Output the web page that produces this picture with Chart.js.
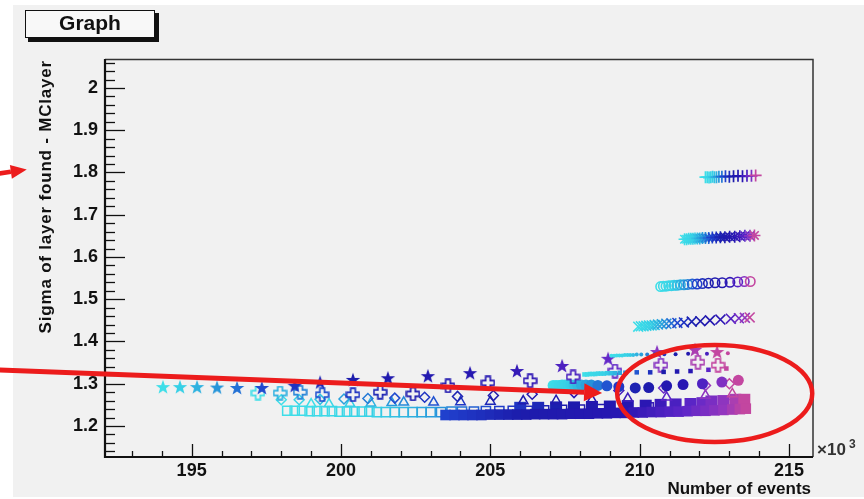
<!DOCTYPE html>
<html>
<head>
<meta charset="utf-8">
<script src="https://cdn.jsdelivr.net/npm/chart.js@4.4.1/dist/chart.umd.min.js"></script>
<style>
  html, body { margin: 0; padding: 0; background: #fff; }
  #wrap { width: 864px; height: 499px; }
</style>
</head>
<body>
<div id="wrap"><canvas id="graph" width="864" height="499"></canvas></div>
<script>
// x in thousands of events, y = sigma(layer found - MC layer)

// thin "+" row
const plusX = [212.20, 212.26, 212.32, 212.38, 212.44, 212.50, 212.57, 212.65, 212.75, 212.87, 213.00, 213.14, 213.29, 213.44, 213.59, 213.74, 213.88];
const plusY = [1.789, 1.789, 1.788, 1.789, 1.790, 1.789, 1.789, 1.790, 1.790, 1.791, 1.790, 1.791, 1.792, 1.791, 1.792, 1.792, 1.793];

// asterisk row
const asterX = [211.50, 211.57, 211.64, 211.71, 211.78, 211.85, 211.93, 212.01, 212.10, 212.20, 212.31, 212.43, 212.56, 212.70, 212.85, 213.01, 213.18, 213.35, 213.52, 213.69, 213.84];
const asterY = [1.642, 1.642, 1.643, 1.643, 1.643, 1.644, 1.644, 1.644, 1.645, 1.645, 1.645, 1.646, 1.646, 1.647, 1.647, 1.648, 1.648, 1.649, 1.650, 1.650, 1.651];

// open circle row
const ringX = [210.70, 210.79, 210.88, 210.97, 211.06, 211.15, 211.25, 211.36, 211.48, 211.61, 211.76, 211.92, 212.10, 212.30, 212.52, 212.76, 213.02, 213.28, 213.50, 213.70];
const ringY = [1.530, 1.531, 1.531, 1.532, 1.532, 1.533, 1.533, 1.534, 1.534, 1.535, 1.536, 1.536, 1.537, 1.538, 1.539, 1.539, 1.540, 1.541, 1.542, 1.542];

// "x" row
const xmarkX = [209.95, 210.04, 210.13, 210.22, 210.31, 210.40, 210.50, 210.61, 210.74, 210.89, 211.06, 211.26, 211.48, 211.74, 212.03, 212.35, 212.70, 213.05, 213.32, 213.52, 213.68];
const xmarkY = [1.435, 1.436, 1.436, 1.437, 1.438, 1.438, 1.439, 1.440, 1.441, 1.442, 1.443, 1.444, 1.445, 1.447, 1.448, 1.450, 1.452, 1.454, 1.455, 1.456, 1.457];

// small dot row
const dotX = [209.05, 209.14, 209.23, 209.32, 209.41, 209.50, 209.59, 209.68, 209.78, 209.90, 210.05, 210.25, 210.50, 210.82, 211.20, 211.62, 212.25, 212.95];
const dotY = [1.366, 1.366, 1.367, 1.367, 1.367, 1.368, 1.368, 1.368, 1.368, 1.369, 1.369, 1.369, 1.370, 1.370, 1.370, 1.371, 1.371, 1.372];

// small filled square row
const boxX = [208.15, 208.24, 208.33, 208.42, 208.51, 208.60, 208.70, 208.80, 208.91, 209.03, 209.17, 209.33, 209.52, 209.90, 210.35, 210.80, 211.25, 211.70, 212.30, 212.90];
const boxY = [1.322, 1.322, 1.323, 1.323, 1.323, 1.324, 1.324, 1.324, 1.325, 1.325, 1.325, 1.326, 1.326, 1.327, 1.327, 1.328, 1.329, 1.330, 1.333, 1.336];

// filled circle row
const discX = [207.10, 207.20, 207.30, 207.40, 207.50, 207.60, 207.70, 207.80, 207.92, 208.05, 208.20, 208.38, 208.60, 208.90, 209.30, 209.85, 210.30, 210.90, 211.45, 212.10, 212.75, 213.30];
const discY = [1.296, 1.296, 1.296, 1.297, 1.297, 1.297, 1.297, 1.297, 1.297, 1.297, 1.297, 1.297, 1.296, 1.295, 1.293, 1.290, 1.291, 1.295, 1.298, 1.300, 1.304, 1.308];

// filled star row
const starX = [194.04, 194.61, 195.18, 195.85, 196.52, 197.35, 198.45, 199.30, 200.40, 201.57, 202.91, 204.32, 205.89, 207.40, 208.94, 210.58, 211.85, 212.59];
const starY = [1.292, 1.292, 1.292, 1.291, 1.290, 1.290, 1.295, 1.303, 1.309, 1.313, 1.318, 1.325, 1.330, 1.342, 1.359, 1.375, 1.380, 1.375];

// open cross row
const crossX = [197.22, 197.96, 198.63, 199.37, 200.40, 201.31, 202.41, 203.58, 204.92, 206.33, 207.77, 209.17, 210.71, 211.95, 212.62];
const crossY = [1.278, 1.278, 1.280, 1.274, 1.274, 1.280, 1.276, 1.295, 1.302, 1.307, 1.316, 1.330, 1.344, 1.351, 1.344];

// open diamond row
const diamX = [198.00, 198.60, 199.30, 200.10, 200.90, 201.80, 202.80, 203.90, 205.10, 206.40, 207.80, 209.30, 210.80, 212.20, 213.00];
const diamY = [1.262, 1.262, 1.263, 1.264, 1.265, 1.266, 1.268, 1.270, 1.272, 1.275, 1.279, 1.284, 1.290, 1.296, 1.300];

// open triangle row
const triX = [199.00, 199.60, 200.30, 201.00, 201.70, 202.10, 203.10, 204.00, 205.00, 206.10, 207.20, 208.40, 209.60, 210.90, 212.20, 213.10];
const triY = [1.252, 1.252, 1.253, 1.254, 1.255, 1.256, 1.256, 1.257, 1.258, 1.259, 1.260, 1.262, 1.265, 1.268, 1.272, 1.276];

// open square row
const sqX = [198.20, 198.45, 198.70, 198.95, 199.20, 199.45, 199.70, 199.95, 200.20, 200.45, 200.70, 200.95, 201.20, 201.50, 201.80, 202.10, 202.40, 202.70, 203.00, 203.35, 203.70, 204.05, 204.45, 204.85, 205.30, 205.75, 206.25, 206.80, 207.40, 208.00, 208.70, 209.50, 210.30, 211.20, 212.10, 213.00];
const sqY = [1.236, 1.236, 1.236, 1.235, 1.235, 1.235, 1.235, 1.234, 1.234, 1.234, 1.234, 1.234, 1.233, 1.233, 1.233, 1.233, 1.233, 1.233, 1.233, 1.233, 1.234, 1.234, 1.234, 1.235, 1.235, 1.236, 1.236, 1.237, 1.238, 1.239, 1.240, 1.242, 1.244, 1.246, 1.249, 1.252];

// filled square row
const blockX = [203.50, 203.80, 204.10, 204.40, 204.70, 205.00, 205.30, 205.60, 205.90, 206.20, 206.50, 206.80, 207.10, 207.40, 207.70, 208.00, 208.30, 208.60, 208.90, 209.20, 209.50, 209.80, 210.10, 210.40, 210.70, 211.00, 211.30, 211.60, 211.90, 212.20, 212.50, 212.80, 213.10, 213.35, 213.55];
const blockY = [1.226, 1.226, 1.226, 1.226, 1.226, 1.227, 1.227, 1.227, 1.227, 1.227, 1.228, 1.228, 1.228, 1.228, 1.229, 1.229, 1.229, 1.230, 1.230, 1.231, 1.231, 1.232, 1.232, 1.233, 1.233, 1.234, 1.234, 1.235, 1.236, 1.236, 1.237, 1.238, 1.239, 1.240, 1.241];

// large filled square row
const slabX = [206.00, 206.60, 207.20, 207.80, 208.40, 209.00, 209.60, 210.20, 210.70, 211.20, 211.70, 212.10, 212.40, 212.80, 213.20, 213.50];
const slabY = [1.243, 1.243, 1.244, 1.244, 1.245, 1.246, 1.247, 1.248, 1.250, 1.251, 1.252, 1.254, 1.258, 1.259, 1.262, 1.262];

// y ticks every 0.1 from 1.2 to 2, x ticks every 5k from 195 to 215
const yTicks = [1.2, 1.3, 1.4, 1.5, 1.6, 1.7, 1.8, 1.9, 2.0];
const xTicks = [195, 200, 205, 210, 215];

// red markup, in data units
const pointerShort = { from: [188.40, 1.796], to: [189.48, 1.807] };
const pointerLong = { from: [188.40, 1.333], to: [208.74, 1.278] };
const ring = { x: 212.51, y: 1.277, rx: 3.265, ry: 0.1148 };

const FONT = '"Liberation Sans", Arial, sans-serif';
const PAD_BG = '#f1f1f1';

const PALETTE = [
  [0.00, [62, 222, 232]],
  [0.15, [55, 208, 230]],
  [0.28, [38, 148, 218]],
  [0.40, [32, 64, 205]],
  [0.55, [28, 28, 172]],
  [0.75, [40, 22, 178]],
  [0.88, [95, 38, 200]],
  [0.96, [150, 55, 190]],
  [1.00, [195, 70, 160]]
];

function paletteAt(t) {
  t = Math.max(0, Math.min(1, t));
  for (let i = 1; i < PALETTE.length; i++) {
    const [t1, c1] = PALETTE[i];
    const [t0, c0] = PALETTE[i - 1];
    if (t <= t1) {
      const f = (t - t0) / (t1 - t0);
      const c = c0.map((v, k) => Math.round(v + (c1[k] - v) * f));
      return `rgb(${c[0]},${c[1]},${c[2]})`;
    }
  }
  return 'rgb(195,70,160)';
}

const markerCache = {};

function filledStar(color) {
  const key = 'star' + color;
  if (markerCache[key]) return markerCache[key];
  const c = document.createElement('canvas');
  c.width = c.height = 16;
  const g = c.getContext('2d');
  g.beginPath();
  for (let i = 0; i < 10; i++) {
    const r = i % 2 ? 3.1 : 7.6;
    const a = -Math.PI / 2 + i * Math.PI / 5;
    const px = 8 + r * Math.cos(a), py = 8.4 + r * Math.sin(a);
    i ? g.lineTo(px, py) : g.moveTo(px, py);
  }
  g.closePath();
  g.fillStyle = color;
  g.fill();
  markerCache[key] = c;
  return c;
}

function openCross(color) {
  const key = 'cross' + color;
  if (markerCache[key]) return markerCache[key];
  const c = document.createElement('canvas');
  c.width = c.height = 15;
  const g = c.getContext('2d');
  const m = 7.5, a = 2.3, l = 6.3;
  g.beginPath();
  g.moveTo(m - a, m - l); g.lineTo(m + a, m - l); g.lineTo(m + a, m - a);
  g.lineTo(m + l, m - a); g.lineTo(m + l, m + a); g.lineTo(m + a, m + a);
  g.lineTo(m + a, m + l); g.lineTo(m - a, m + l); g.lineTo(m - a, m + a);
  g.lineTo(m - l, m + a); g.lineTo(m - l, m - a); g.lineTo(m - a, m - a);
  g.closePath();
  g.strokeStyle = color;
  g.lineWidth = 1.7;
  g.stroke();
  markerCache[key] = c;
  return c;
}

// colour runs along each row; g bends how long the cyan lead lasts, t0 skips ahead
function row(xs, ys, opt) {
  const x0 = xs[0], x1 = xs[xs.length - 1];
  const g = opt.g || 1, t0 = opt.t0 || 0;
  const colors = xs.map(x => paletteAt(t0 + (1 - t0) * Math.pow((x - x0) / (x1 - x0), g)));
  let style = opt.shape;
  if (opt.shape === 'fstar') style = colors.map(filledStar);
  if (opt.shape === 'ocross') style = colors.map(openCross);
  return {
    data: xs.map((x, i) => ({ x, y: ys[i] })),
    pointStyle: style,
    pointRadius: opt.r,
    pointBorderWidth: opt.bw === undefined ? 1.5 : opt.bw,
    pointBorderColor: colors,
    pointBackgroundColor: opt.filled ? colors : 'rgba(0,0,0,0)',
    showLine: false
  };
}

// first dataset ends up on top
const datasets = [
  row(plusX, plusY, { shape: 'cross', r: 6, bw: 1.7 }),
  row(asterX, asterY, { shape: 'star', r: 6, bw: 1.6 }),
  row(ringX, ringY, { shape: 'circle', r: 4.7, bw: 1.6 }),
  row(xmarkX, xmarkY, { shape: 'crossRot', r: 7, bw: 1.6, g: 0.9 }),
  row(dotX, dotY, { shape: 'circle', r: 2, filled: true, bw: 0 }),
  row(boxX, boxY, { shape: 'rect', r: 3.2, filled: true, bw: 0 }),
  row(starX, starY, { shape: 'fstar', r: 7, g: 0.55 }),
  row(crossX, crossY, { shape: 'ocross', r: 7, g: 0.5 }),
  row(discX, discY, { shape: 'circle', r: 5.5, filled: true, bw: 0, g: 0.8 }),
  row(diamX, diamY, { shape: 'rectRot', r: 5, bw: 1.5, g: 0.7 }),
  row(triX, triY, { shape: 'triangle', r: 5.5, bw: 1.5, g: 0.8 }),
  row(blockX, blockY, { shape: 'rect', r: 7.5, filled: true, bw: 0, t0: 0.4 }),
  row(slabX, slabY, { shape: 'rect', r: 8.5, filled: true, bw: 0, t0: 0.45 }),
  row(sqX, sqY, { shape: 'rect', r: 6.5, bw: 1.5, g: 1.2 })
];

function arrow(ctx, x0, y0, x1, y1, head, half, width) {
  const ang = Math.atan2(y1 - y0, x1 - x0);
  const bx = x1 - head * Math.cos(ang), by = y1 - head * Math.sin(ang);
  ctx.lineWidth = width;
  ctx.beginPath();
  ctx.moveTo(x0, y0);
  ctx.lineTo(bx, by);
  ctx.stroke();
  ctx.beginPath();
  ctx.moveTo(x1, y1);
  ctx.lineTo(bx + half * Math.sin(ang), by - half * Math.cos(ang));
  ctx.lineTo(bx - half * Math.sin(ang), by + half * Math.cos(ang));
  ctx.closePath();
  ctx.fill();
}

const rootFrame = {
  id: 'rootFrame',
  beforeDraw(chart) {
    const { ctx, width, height } = chart;
    ctx.save();
    ctx.fillStyle = '#ffffff';
    ctx.fillRect(0, 0, width, height);
    ctx.fillStyle = PAD_BG;
    ctx.fillRect(13, 5, width - 13, height - 7);
    ctx.restore();
  },
  afterDatasetsDraw(chart) {
    const { ctx, chartArea: a, scales: { x, y } } = chart;
    ctx.save();
    ctx.strokeStyle = '#111';
    // y ticks: major every 0.1, minor every 0.02
    ctx.lineWidth = 1.3;
    for (let k = 0; k <= 50; k++) {
      const v = 1.12 + k * 0.02;
      const py = Math.round(y.getPixelForValue(v)) + 0.5;
      if (py < a.top + 2 || py > a.bottom - 2) continue;
      const major = Math.abs(v * 10 - Math.round(v * 10)) < 1e-6;
      ctx.beginPath();
      ctx.moveTo(a.left, py);
      ctx.lineTo(a.left + (major ? 20 : 10), py);
      ctx.stroke();
    }
    // x ticks: major every 5k, minor every 1k
    for (let v = 193; v <= 215; v++) {
      const px = Math.round(x.getPixelForValue(v)) + 0.5;
      const major = v % 5 === 0;
      ctx.beginPath();
      ctx.moveTo(px, a.bottom);
      ctx.lineTo(px, a.bottom - (major ? 13 : 6));
      ctx.stroke();
    }
    // frame
    ctx.lineWidth = 1.5;
    ctx.strokeStyle = '#333';
    ctx.beginPath();
    ctx.moveTo(a.left, a.top + 0.5);
    ctx.lineTo(a.right, a.top + 0.5);
    ctx.lineTo(a.right, a.bottom);
    ctx.stroke();
    ctx.lineWidth = 2.2;
    ctx.strokeStyle = '#111';
    ctx.beginPath();
    ctx.moveTo(a.left, a.top);
    ctx.lineTo(a.left, a.bottom);
    ctx.lineTo(a.right, a.bottom);
    ctx.stroke();
    ctx.restore();
  },
  afterDraw(chart) {
    const { ctx, chartArea: a, scales: { x, y } } = chart;
    ctx.save();
    ctx.fillStyle = '#111';

    // axis titles
    ctx.font = `bold 17px ${FONT}`;
    ctx.textAlign = 'right';
    ctx.textBaseline = 'alphabetic';
    ctx.fillText('Number of events', a.right - 2, 494);

    ctx.save();
    ctx.translate(51, a.top + 1);
    ctx.rotate(-Math.PI / 2);
    ctx.font = `bold 17px ${FONT}`;
    ctx.letterSpacing = '0.8px';
    ctx.textAlign = 'right';
    ctx.fillText('Sigma of layer found - MClayer', 0, 0);
    ctx.restore();

    // exponent of the x axis
    ctx.textAlign = 'left';
    ctx.font = `bold 17px ${FONT}`;
    ctx.fillStyle = '#333';
    ctx.fillText('\u00d710', a.right + 4, a.bottom - 2);
    ctx.font = `bold 12px ${FONT}`;
    ctx.fillText('3', a.right + 36, a.bottom - 9);

    // title box
    ctx.fillStyle = '#111';
    ctx.fillRect(28, 13, 131, 29);
    ctx.fillStyle = '#f8f8f8';
    ctx.fillRect(25, 10, 130, 28);
    ctx.strokeStyle = '#111';
    ctx.lineWidth = 1;
    ctx.strokeRect(25.5, 10.5, 129, 27);
    ctx.fillStyle = '#111';
    ctx.font = `bold 21px ${FONT}`;
    ctx.textAlign = 'center';
    ctx.textBaseline = 'middle';
    ctx.fillText('Graph', 90, 24);

    // red markup
    ctx.strokeStyle = '#ec1c1c';
    ctx.fillStyle = '#ec1c1c';
    ctx.lineCap = 'butt';
    const P = p => [x.getPixelForValue(p[0]), y.getPixelForValue(p[1])];
    const s0 = P(pointerShort.from), s1 = P(pointerShort.to);
    arrow(ctx, s0[0], s0[1], s1[0], s1[1], 16, 7, 4.5);
    const l0 = P(pointerLong.from), l1 = P(pointerLong.to);
    arrow(ctx, l0[0], l0[1], l1[0], l1[1], 18, 9, 5);
    const cx = x.getPixelForValue(ring.x), cy = y.getPixelForValue(ring.y);
    const rx = Math.abs(x.getPixelForValue(ring.x + ring.rx) - cx);
    const ry = Math.abs(y.getPixelForValue(ring.y + ring.ry) - cy);
    ctx.lineWidth = 4.5;
    ctx.beginPath();
    ctx.ellipse(cx, cy, rx, ry, 0, 0, Math.PI * 2);
    ctx.stroke();
    ctx.restore();
  }
};

new Chart(document.getElementById('graph'), {
  type: 'scatter',
  data: { datasets },
  options: {
    responsive: false,
    devicePixelRatio: 1,
    animation: false,
    events: [],
    layout: { padding: { top: 59, right: 51, left: 0, bottom: 0 } },
    plugins: { legend: { display: false }, tooltip: { enabled: false } },
    scales: {
      x: {
        type: 'linear',
        min: 192.1,
        max: 215.8,
        grid: { display: false, drawTicks: false, tickLength: 0 },
        border: { display: false },
        afterFit(scale) { scale.height = 42; },
        afterBuildTicks(scale) { scale.ticks = xTicks.map(v => ({ value: v })); },
        ticks: {
          padding: 3,
          color: '#111',
          font: { family: FONT, weight: 'bold', size: 18 },
          callback: v => String(v)
        }
      },
      y: {
        type: 'linear',
        min: 1.1266,
        max: 2.0686,
        grid: { display: false, drawTicks: false, tickLength: 0 },
        border: { display: false },
        afterFit(scale) { scale.width = 105; },
        afterBuildTicks(scale) { scale.ticks = yTicks.map(v => ({ value: v })); },
        ticks: {
          padding: 7,
          color: '#111',
          font: { family: FONT, weight: 'bold', size: 18 },
          callback: v => String(Math.round(v * 10) / 10)
        }
      }
    }
  },
  plugins: [rootFrame]
});
</script>
</body>
</html>
